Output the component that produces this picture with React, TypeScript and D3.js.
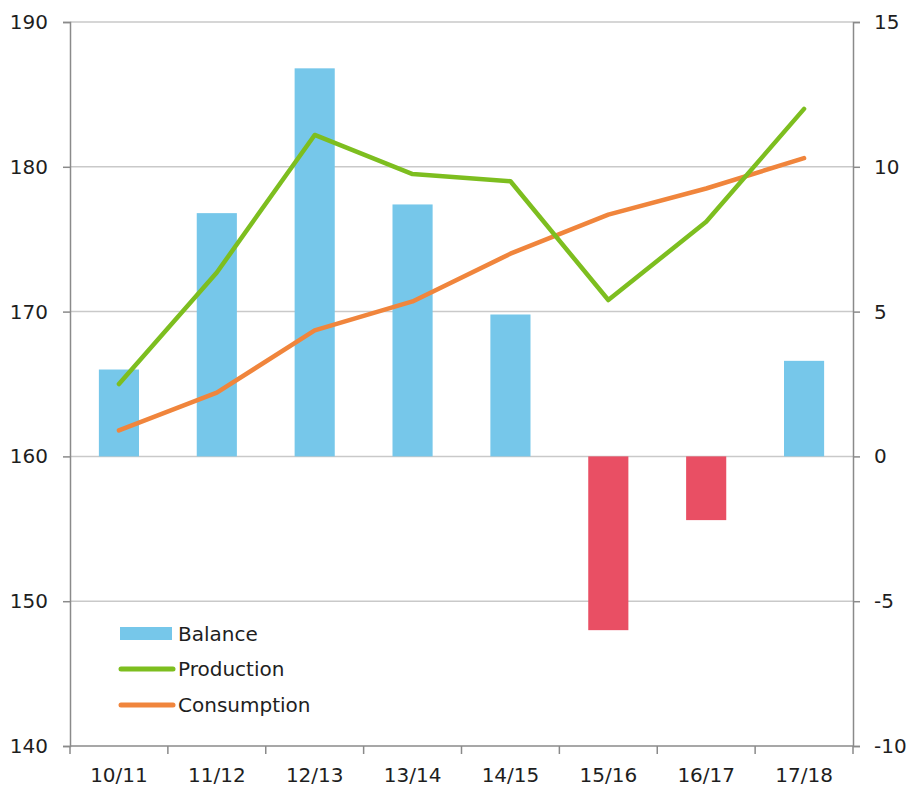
import React, { useEffect, useRef } from 'react'
import * as d3 from 'd3'

const seasons = ['10/11', '11/12', '12/13', '13/14', '14/15', '15/16', '16/17', '17/18']
const balance = [3.0, 8.4, 13.4, 8.7, 4.9, -6.0, -2.2, 3.3]
const production = [165.0, 172.7, 182.2, 179.5, 179.0, 170.8, 176.2, 184.0]
const consumption = [161.8, 164.4, 168.7, 170.7, 174.0, 176.7, 178.5, 180.6]
const leftTicks = [140, 150, 160, 170, 180, 190]
const rightTicks = [-10, -5, 0, 5, 10, 15]

const FONT = '"DejaVu Sans", sans-serif'

export default function App() {
  const ref = useRef<SVGSVGElement>(null)

  useEffect(() => {
    const svg = d3.select(ref.current)
    svg.selectAll('*').remove()

    const left = 70
    const right = 853
    const top = 22
    const bottom = 746

    const x = d3.scaleBand().domain(seasons).range([left, right]).padding(0)
    const yL = d3.scaleLinear().domain([140, 190]).range([bottom, top])
    const yR = d3.scaleLinear().domain([-10, 15]).range([bottom, top])

    // gridlines
    svg.append('g')
      .selectAll('line')
      .data(leftTicks.filter(t => t > 140))
      .join('line')
      .attr('x1', left).attr('x2', right)
      .attr('y1', d => yL(d)).attr('y2', d => yL(d))
      .attr('stroke', '#c9c9c9')
      .attr('stroke-width', 1.5)

    // bars
    const barW = x.bandwidth() * 0.41
    svg.append('g')
      .selectAll('rect')
      .data(balance)
      .join('rect')
      .attr('x', (d, i) => x(seasons[i])! + x.bandwidth() / 2 - barW / 2)
      .attr('width', barW)
      .attr('y', d => Math.min(yR(d), yR(0)))
      .attr('height', d => Math.abs(yR(d) - yR(0)))
      .attr('fill', d => d < 0 ? '#e94f64' : '#76c7ea')

    const line = (scale: d3.ScaleLinear<number, number>) => d3.line<number>()
      .x((d, i) => x(seasons[i])! + x.bandwidth() / 2)
      .y(d => scale(d))

    svg.append('path')
      .datum(consumption)
      .attr('d', line(yL))
      .attr('fill', 'none')
      .attr('stroke', '#f0853c')
      .attr('stroke-width', 4.5)
      .attr('stroke-linejoin', 'round')
      .attr('stroke-linecap', 'round')

    svg.append('path')
      .datum(production)
      .attr('d', line(yL))
      .attr('fill', 'none')
      .attr('stroke', '#7dbe1f')
      .attr('stroke-width', 4.5)
      .attr('stroke-linejoin', 'round')
      .attr('stroke-linecap', 'round')

    // axes
    const axisColor = '#8a8a8a'
    const leftAxis = svg.append('g')
      .attr('transform', `translate(${left},0)`)
      .call(d3.axisLeft(yL).tickValues(leftTicks).tickSize(7).tickPadding(15))
    const rightAxis = svg.append('g')
      .attr('transform', `translate(${right},0)`)
      .call(d3.axisRight(yR).tickValues(rightTicks).tickFormat(d => String(d)).tickSize(7).tickPadding(14))
    const bottomAxis = svg.append('g')
      .attr('transform', `translate(0,${bottom})`)
      .call(d3.axisBottom(x).tickSize(0).tickPadding(22))

    for (const g of [leftAxis, rightAxis, bottomAxis]) {
      g.select('.domain').attr('stroke', axisColor).attr('stroke-width', 1.5)
      g.selectAll('.tick line').attr('stroke', axisColor).attr('stroke-width', 1.5)
      g.selectAll('text')
        .attr('fill', '#1e1e1e')
        .style('font-family', FONT)
        .style('font-size', '20px')
    }
    bottomAxis.select('.domain').attr('d', `M${left},0H${right}`)

    // category boundary ticks
    svg.append('g')
      .selectAll('line')
      .data([...seasons.map(s => x(s)!), right])
      .join('line')
      .attr('x1', d => d).attr('x2', d => d)
      .attr('y1', bottom).attr('y2', bottom + 8)
      .attr('stroke', axisColor)
      .attr('stroke-width', 1.5)

    // legend
    const legend = svg.append('g')
    legend.append('rect')
      .attr('x', 120).attr('y', 627).attr('width', 52).attr('height', 13)
      .attr('fill', '#76c7ea')
    const items = [
      { label: 'Production', color: '#7dbe1f', y: 669 },
      { label: 'Consumption', color: '#f0853c', y: 705 },
    ]
    legend.selectAll('line')
      .data(items)
      .join('line')
      .attr('x1', 121).attr('x2', 173)
      .attr('y1', d => d.y).attr('y2', d => d.y)
      .attr('stroke', d => d.color)
      .attr('stroke-width', 5)
      .attr('stroke-linecap', 'round')
    legend.selectAll('text')
      .data([{ label: 'Balance', y: 634 }, ...items])
      .join('text')
      .attr('x', 178)
      .attr('y', d => d.y)
      .attr('dy', '0.35em')
      .attr('fill', '#1e1e1e')
      .style('font-family', FONT)
      .style('font-size', '20px')
      .text(d => d.label)
  }, [])

  return (
    <svg ref={ref} width={909} height={788} style={{ display: 'block', position: 'absolute', left: 0, top: 0, background: '#fff' }} />
  )
}
